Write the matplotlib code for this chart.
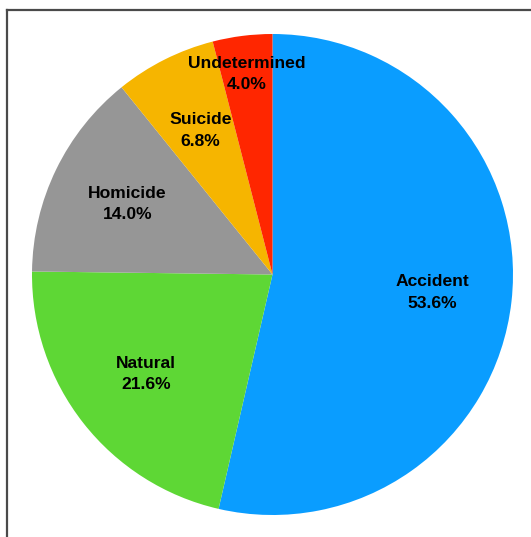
import numpy as np
import matplotlib.pyplot as plt
from matplotlib.lines import Line2D

# Manner of death breakdown (percent)
labels = ['Accident', 'Natural', 'Homicide', 'Suicide', 'Undetermined']
shares = [53.6, 21.6, 14.0, 6.8, 4.0]
colors = ['#0A9DFF', '#5ED735', '#969696', '#F6B500', '#FF2600']
label_radius = [0.67, 0.67, 0.67, 0.67, 0.84]

W, H = 531, 537
fig = plt.figure(figsize=(W / 100, H / 100), dpi=100)

# pie centred at (272.5, 274.5) px with radius 240.5 px
cx, cy, r = 272.5, 274.5, 240.5
ax = fig.add_axes([(cx - r) / W, (H - cy - r) / H, 2 * r / W, 2 * r / H])

wedges, _ = ax.pie(shares, colors=colors, startangle=90, counterclock=False,
                   radius=1, wedgeprops=dict(linewidth=0))
ax.set_xlim(-1, 1)
ax.set_ylim(-1, 1)
ax.set_aspect('auto')
ax.axis('off')

for w, name, val, rad in zip(wedges, labels, shares, label_radius):
    mid = np.deg2rad((w.theta1 + w.theta2) / 2)
    ax.text(rad * np.cos(mid), rad * np.sin(mid), f'{name}\n{val:.1f}%',
            ha='center', va='center', fontsize=12.6, fontweight='bold',
            family='Liberation Sans', linespacing=1.55, color='black')

# frame lines on the left and top
fx, fy = 7 / W, 1 - 10 / H
fig.add_artist(Line2D([fx, fx], [0, fy], transform=fig.transFigure,
                      color='#4a4a4a', linewidth=1.6))
fig.add_artist(Line2D([fx, 1], [fy, fy], transform=fig.transFigure,
                      color='#4a4a4a', linewidth=1.6))

fig.savefig('out.png', dpi=100)
